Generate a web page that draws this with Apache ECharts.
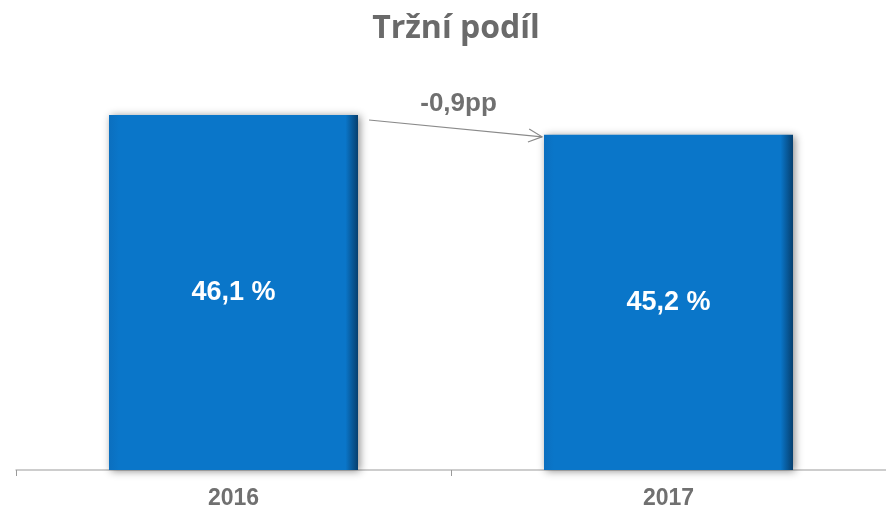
<!DOCTYPE html>
<html>
<head>
<meta charset="utf-8">
<script src="https://cdn.jsdelivr.net/npm/echarts@6/dist/echarts.min.js"></script>
<style>html,body{margin:0;padding:0;background:#fff}#c{width:886px;height:510px}</style>
</head>
<body>
<div id="c"></div>
<script>
var categories = ['2016', '2017'];
var shareValues = [46.1, 45.2];
var deltaLabel = '-0,9pp';
var titleText = 'Tržní podíl';

var chart = echarts.init(document.getElementById('c'));
var barW = 249;
chart.setOption({
  animation: false,
  title: {
    text: titleText, left: 451, textAlign: 'center', top: 8,
    textStyle: { fontFamily: 'Open Sans', fontWeight: 'bold', fontSize: 32, color: '#6a6a6a' }
  },
  grid: { left: 16, right: -3, top: 29, bottom: 40 },
  xAxis: {
    type: 'category', data: categories,
    axisLine: { lineStyle: { color: '#bdbdbd', width: 1.5 } },
    axisTick: { show: true, length: 6, lineStyle: { color: '#9a9a9a' } },
    axisLabel: { margin: 17, fontFamily: 'Liberation Sans', fontWeight: 'bold', fontSize: 23, color: '#707070' }
  },
  yAxis: { type: 'value', min: 30, max: 50, show: false, splitLine: { show: false } },
  series: [{
    type: 'bar', data: shareValues, barWidth: barW,
    itemStyle: {
      color: new echarts.graphic.LinearGradient(0, 0, 1, 0, [
        { offset: 0, color: '#0b6fbf' }, { offset: 0.04, color: '#0a76c9' },
        { offset: 0.95, color: '#0a76c9' }, { offset: 1, color: '#063f6e' }
      ]),
      shadowColor: 'rgba(0,0,0,0.45)', shadowBlur: 8, shadowOffsetX: 2, shadowOffsetY: 1
    },
    label: {
      show: true, position: 'inside',
      formatter: function (p) { return String(p.value).replace('.', ',') + ' %'; },
      fontFamily: 'Liberation Sans', fontWeight: 'bold', fontSize: 27, color: '#ffffff'
    }
  }]
});

function drawArrow() {
  var p0 = chart.convertToPixel({ gridIndex: 0 }, [0, shareValues[0]]);
  var p1 = chart.convertToPixel({ gridIndex: 0 }, [1, shareValues[1]]);
  var x0 = p0[0] + barW / 2 + 11, y0 = p0[1] + 5;
  var x1 = p1[0] - barW / 2 - 2, y1 = p1[1] + 2;
  var ang = Math.atan2(y1 - y0, x1 - x0);
  var L = 15, a = 0.45;
  chart.setOption({
    graphic: [
      { type: 'line', shape: { x1: x0, y1: y0, x2: x1, y2: y1 }, style: { stroke: '#8a8a8a', lineWidth: 1.2 } },
      { type: 'polyline', shape: { points: [
          [x1 - L * Math.cos(ang - a), y1 - L * Math.sin(ang - a)], [x1, y1],
          [x1 - L * Math.cos(ang + a), y1 - L * Math.sin(ang + a)] ] },
        style: { stroke: '#8a8a8a', lineWidth: 1.2, fill: null } },
      { type: 'text', x: (x0 + x1) / 2 + 3, y: y0 - 16,
        style: { text: deltaLabel, align: 'center', verticalAlign: 'middle',
          font: 'bold 26px "Liberation Sans"', fill: '#707070' } }
    ]
  });
}
drawArrow();
</script>
</body>
</html>
